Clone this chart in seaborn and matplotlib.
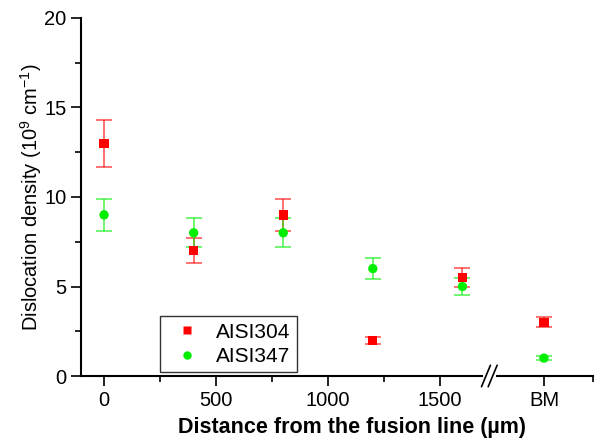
import numpy as np
import pandas as pd
import matplotlib
matplotlib.use("Agg")
import matplotlib.pyplot as plt
import seaborn as sns

# Data
positions = [0, 400, 800, 1200, 1600, 1964]   # BM plotted after the axis break
aisi304 = [13.0, 7.0, 9.0, 2.0, 5.5, 3.0]
aisi304_err = [1.3, 0.7, 0.9, 0.2, 0.55, 0.28]
aisi347 = [9.0, 8.0, 8.0, 6.0, 5.0, 1.0]
aisi347_err = [0.9, 0.8, 0.8, 0.6, 0.5, 0.1]
xtick_pos = [0, 500, 1000, 1500, 1964]
xtick_labels = ["0", "500", "1000", "1500", "BM"]

df = pd.DataFrame({
    "x": positions * 2,
    "y": aisi304 + aisi347,
    "err": aisi304_err + aisi347_err,
    "steel": ["AISI304"] * 6 + ["AISI347"] * 6,
})

sns.set_style("ticks", {"text.color": "black", "axes.labelcolor": "black",
                        "xtick.color": "black", "ytick.color": "black"})
plt.rcParams["font.family"] = ["Liberation Sans", "DejaVu Sans"]
plt.rcParams["mathtext.fontset"] = "custom"
plt.rcParams["mathtext.rm"] = "Liberation Sans"
plt.rcParams["mathtext.it"] = "Liberation Sans:italic"

fig = plt.figure(figsize=(6.02, 4.40), dpi=100)
ax = fig.add_axes([81 / 602, 1 - 376 / 440, (593 - 81) / 602, (376 - 18) / 440])

colors = {"AISI304": "#ff0000", "AISI347": "#00ee00"}
markers = {"AISI304": "s", "AISI347": "o"}

# error bars first so markers sit on top
for steel, grp in df.groupby("steel"):
    ax.errorbar(grp["x"], grp["y"], yerr=grp["err"], fmt="none",
                ecolor=colors[steel], alpha=0.6, elinewidth=1.3,
                capsize=5.8, capthick=1.3, zorder=2)

sns.scatterplot(data=df, x="x", y="y", hue="steel", style="steel",
                palette=colors, markers=markers, s=45, edgecolor="none",
                ax=ax, zorder=3)

ax.set_xlim(-103, 2183)
ax.set_ylim(0, 20)
ax.set_xticks(xtick_pos)
ax.set_xticklabels(xtick_labels)
ax.set_xticks([250, 750, 1250, 2183], minor=True)
ax.set_yticks([0, 5, 10, 15, 20])
ax.set_yticks([2.5, 7.5, 12.5, 17.5], minor=True)
ax.tick_params(axis="both", which="major", length=7, width=1.2, labelsize=14.5,
               color="black", labelcolor="black")
ax.tick_params(axis="both", which="minor", length=4, width=1.2, color="black")
for side in ["left", "bottom"]:
    ax.spines[side].set_linewidth(1.5)
    ax.spines[side].set_color("black")
sns.despine(ax=ax)

ax.set_xlabel("Distance from the fusion line (\u00b5m)", fontsize=15.5,
              fontweight="bold", color="black")
ax.xaxis.set_label_coords(0.529, -0.114)
ax.set_ylabel("Dislocation density (10$^{9}$ cm$^{-1}$)", fontsize=14.5,
              labelpad=0, color="black")

# axis break marks
for xb in [1705, 1735]:
    ax.plot([xb - 20, xb + 20], [-0.6, 0.6], color="black", lw=1.2,
            clip_on=False, zorder=5)
ax.plot([1700, 1740], [0, 0], color="white", lw=3, clip_on=False, zorder=4)

leg = ax.legend(loc="lower left", bbox_to_anchor=(0.154, 0.011), borderaxespad=0,
                fontsize=15, frameon=True, fancybox=False, edgecolor="black",
                handletextpad=0.4, borderpad=0.3, labelspacing=0.25, markerscale=0.9)
leg.get_frame().set_linewidth(1.0)
for t in leg.get_texts():
    t.set_color("black")

fig.savefig("out.png", dpi=100)
